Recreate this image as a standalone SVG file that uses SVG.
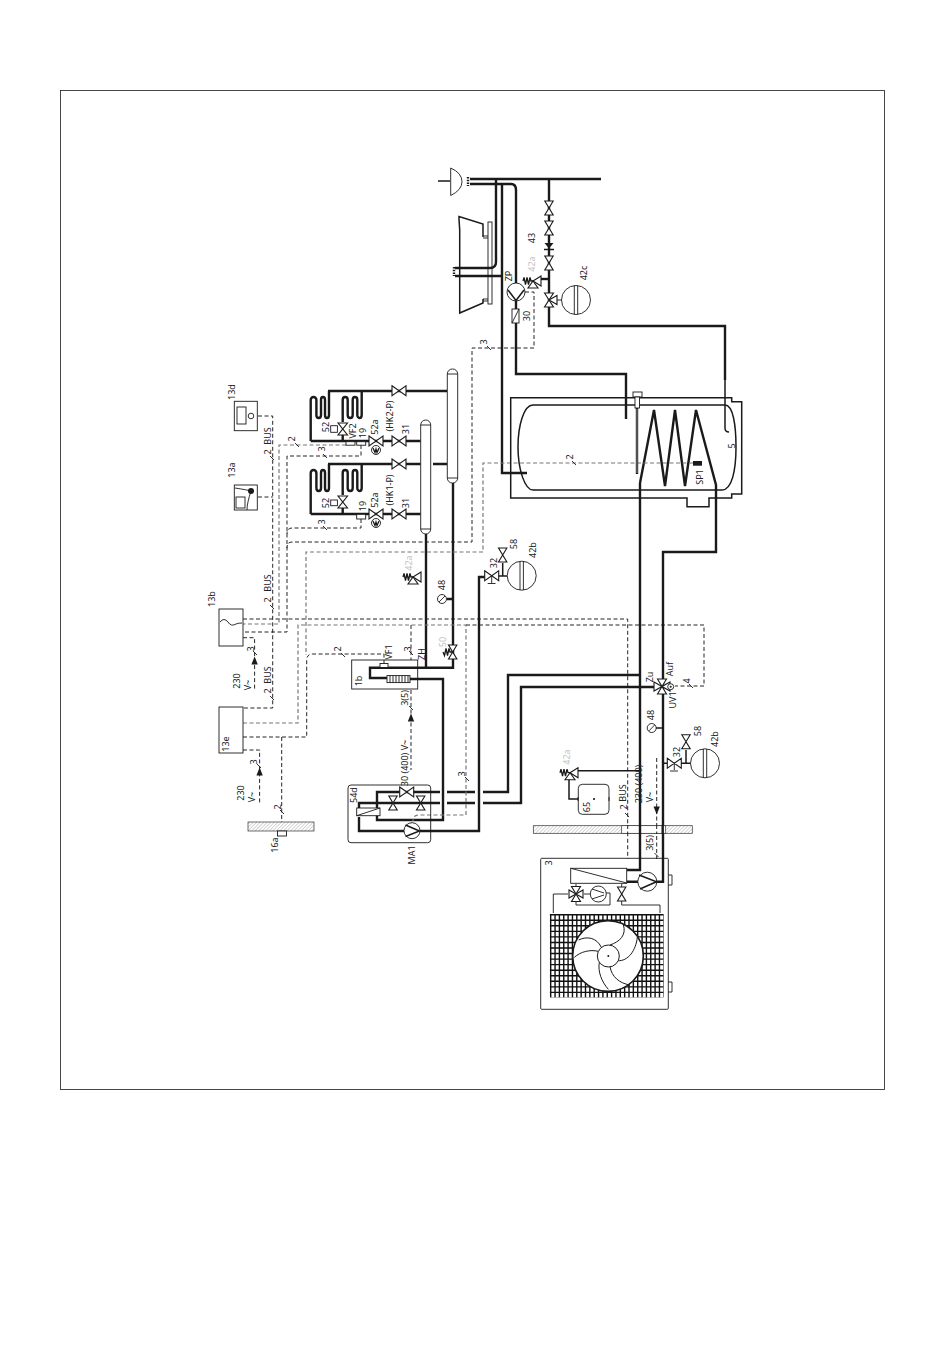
<svg xmlns="http://www.w3.org/2000/svg" width="950" height="1360" viewBox="0 0 950 1360">
<style>
text{font-family:"Noto Sans","Liberation Sans",sans-serif;font-size:9px;fill:#222;text-anchor:middle;dominant-baseline:central}
text.g{fill:#c4c4c4}
.p{fill:none;stroke:#1a1a1a;stroke-width:2.4}
.m{fill:none;stroke:#1a1a1a;stroke-width:1.5}
.n{fill:none;stroke:#1a1a1a;stroke-width:.9}
.b{fill:#fff;stroke:#1a1a1a;stroke-width:.9}
.d{fill:none;stroke:#1a1a1a;stroke-width:.95;stroke-dasharray:4 2.5}
.e{fill:none;stroke:#777;stroke-width:1.2;stroke-dasharray:4 2.5}
.a{fill:#1a1a1a;stroke:none}
.v{fill:#fff;stroke:#1a1a1a;stroke-width:1.1}
.s{fill:none;stroke:#1a1a1a;stroke-width:1.3}
</style>
<defs>
<pattern id="h" width="2.5" height="2.5" patternUnits="userSpaceOnUse" patternTransform="rotate(45)"><rect width="2.5" height="2.5" fill="#fff"/><path d="M0,0V2.5" stroke="#999" stroke-width=".8"/></pattern>
<path id="bt" class="v" d="M-7,-5L7,5V-5L-7,5Z"/>
<path id="bn" class="v" d="M-7,-4.2L7,4.2V-4.2L-7,4.2Z"/>
<g id="tv"><path class="v" d="M-4.5,-7L4.5,7H-4.5L4.5,-7Z"/><path class="v" d="M0,0L8,-4.5V4.5Z"/></g>
<g id="sv"><path class="v" d="M0,0L8,-5V5Z"/><path class="v" d="M0,0L-5,7H5Z"/><path class="s" d="M0,0H-2L-3,-3.5L-4.5,3.5L-6,-3.5L-7.5,3.5L-9,-3.5L-10,0"/></g>
<g id="exp"><circle class="b" r="14.5"/><path class="n" d="M-1.7,-14.3V14.3M1.7,-14.3V14.3"/></g>
<g id="coil"><path class="p" d="M310.7,441V400a2.85,3 0 0 1 5.7,0V415a2.3,3 0 0 0 4.6,0V400a2,3 0 0 1 4,0V415a2,3 0 0 0 4,0V391"/><path class="p" d="M342.7,422V400a2.5,3 0 0 1 5,0V415a2.5,3 0 0 0 5,0V400a2.3,3 0 0 1 4.6,0V415a2.2,3 0 0 0 4.4,0V391"/></g>
<g id="pm"><circle class="b" r="4.5"/><path class="s" d="M-3,-2L-1,2.5L0,-1L1,2.5L3,-2"/></g>
<path id="gauge" class="b" d="M4.5,0A4.5,4.5 0 1 1 -4.5,0A4.5,4.5 0 1 1 4.5,0ZM-3,3L3,-3"/>
<path id="au" class="a" d="M0,-4.5L3.2,3.5H-3.2Z"/>
</defs>
<rect id="frame" x="60.5" y="90.5" width="824" height="999" fill="#fff" stroke="#333" stroke-width=".9"/>

<g id="connectors">
<path class="p" d="M470,179H601M470,184H511Q516,184 516,190V283M516,301V374H626V419"/>
<path class="p" d="M496,179V262Q496,268 490,268H455M455,276H502M502,184V473H527"/>
<path class="p" d="M549,179V326H725V380"/>
<path class="m" d="M725,380V428Q725,432 729,432"/>
<path class="p" d="M549,279H539"/>
<path class="p" d="M426,534V667.7M453,483V667.7H370V678H387M410,679H443V820H377V792H440M447,792H475M483,792H508V675H640"/>
<path class="p" d="M359,808V803H440M447,803H475M483,803H521V687H655M359,817V831H404M420,831H479V577H485M453,599H447"/>
<path class="p" d="M640,483V870H627M640,483L654,410L665,486L675,410L685,486L696,410L716,485V552H663V881.7H657M638,881.7H627"/>
<path class="p" d="M310.7,441H420.7M310.7,514H420.7M328,391H447M328,464H420.7M433,464H447M342.7,434V441M342.7,507V514"/>
<path class="m" d="M497,576H507M502.7,576V563M662.7,728H656M663,763.3H669M680,763.3H691M686,763.3V750"/>
<path class="m" d="M577,770.7H640M569,778V799H578"/>
<path class="d" d="M525,292H534V348H472V542H292Q287,542 287,548"/>
<path class="d" d="M258,416H272.7V708H243M258,497H272.7"/>
<path class="d" d="M243,619H627.7V859"/>
<path class="d" d="M361,445V456H287V632H243"/>
<path class="e" d="M346,445H279V624H243"/>
<path class="d" d="M361,519V528H292Q287,528 287,534"/>
<path class="e" d="M693,463H483V552H306V655"/>
<path class="d" d="M243,737H306.7V660Q306.7,654 313,654H384V664M281.7,737V830"/>
<path class="e" d="M243,723H298V625H466V815H419Q413,815 413,821"/>
<path class="d" d="M466,625H704V686H675"/>
<path class="d" d="M411,625V660M411,690V770"/>
<path class="d" d="M243,637.7H254.6V690M243,750H259.6V803M656.7,758V859"/>
<path class="n" d="M270,456l4,4M270,605l4,4M270,696l4,4M295,443l4,4M323,454l4,4M323,526l4,4M253,651l4,4M257,764l4,4M280,810l4,4M341,653l4,4M409,651l4,4M409,706l4,4M465,777l4,4M487,346l4,4M625,813l4,4M654.5,853l4,4M689,684l4,4"/>
</g>

<g id="frame-walls">
<rect x="248" y="822" width="66" height="9" fill="url(#h)" stroke="#333" stroke-width=".7"/>
<rect x="533.3" y="825.7" width="159" height="7.6" fill="url(#h)" stroke="#333" stroke-width=".7"/>
<rect x="621.7" y="825.7" width="44" height="7.6" fill="#fff" stroke="#333" stroke-width=".7"/>
<path class="p" d="M640,825V834M662.7,825V834"/><path class="d" d="M627.7,825V834M656.7,825V834"/>
</g>

<g id="washbasin"><path class="b" stroke-width="1.2" d="M450.7,168V195.5Q462,190 462,181.7Q462,173 450.7,168Z"/><path class="m" d="M438,181H450"/><path class="p" stroke-width="4" stroke-dasharray="1.5 1.2" d="M468,177V186"/></g>
<g id="bathtub"><path class="m" d="M483,237V224L459,216.6V219L459.7,230V313L483,303V299"/><rect class="n" x="488" y="222" width="4" height="82"/><path class="n" d="M483,236H488M483,238H488M483,299H488M483,301H488"/><path class="p" stroke-width="4" stroke-dasharray="1.5 1.2" d="M454,267V276"/></g>

<g id="pump-zp"><circle class="b" cx="516" cy="292" r="9"/><path class="m" d="M508,290L516,300.5L524,290"/><rect class="b" x="512" y="309" width="7" height="14"/><path class="n" d="M512,323L519,309"/><text transform="translate(508,276) rotate(-90)">ZP</text><text transform="translate(526,316) rotate(-90)">30</text></g>

<g id="valves-43">
<use href="#bn" transform="translate(549,208) rotate(90)"/><use href="#bn" transform="translate(549,228) rotate(90)"/>
<path class="a" d="M544.5,243H553.5L549,248.5Z"/><path class="m" d="M544,249.5H554"/>
<use href="#bn" transform="translate(549,263) rotate(90)"/>
<use href="#tv" transform="translate(549,300)"/>
<use href="#sv" transform="translate(533,281)"/>
<use href="#exp" transform="translate(576,300)"/><path class="n" d="M557,300H561.5"/>
<text transform="translate(531,238) rotate(-90)">43</text><text class="g" transform="translate(531,264) rotate(-90)">42a</text><text transform="translate(583,273) rotate(-90)">42c</text>
</g>

<g id="tank">
<path class="m" d="M510.7,397.7H731.7V401.7H741.7V494H731.7V498H709V506.7H687V498H510.7Z"/>
<path class="m" d="M533,405H725C733,405 736,425 736,447C736,470 732,490 722,490H533C525,490 518,470 518,447C518,425 524,405 533,405Z"/>
<rect class="b" x="633" y="392" width="9" height="5"/><rect class="b" x="635" y="397" width="4.5" height="11"/><path class="p" d="M637,408V474"/><path d="M637,409V473" stroke="#fff" stroke-width=".5"/>
<rect class="a" x="693" y="461" width="9" height="4.7"/>
<path class="n" d="M572,461l4,4"/>
<text transform="translate(569,457) rotate(-90)">2</text><text transform="translate(699,477) rotate(-90)">SP1</text><text transform="translate(731,446) rotate(-90)">5</text>
</g>

<g id="vessel-1"><rect class="b" stroke-width="1.4" x="420.7" y="420" width="10" height="114" rx="5" ry="5"/><path class="n" d="M420.7,425H430.7M420.7,529H430.7"/></g>
<g id="vessel-2"><rect class="b" stroke-width="1.4" x="447.3" y="369" width="10.4" height="114" rx="5" ry="5"/><path class="n" d="M447.3,374H457.7M447.3,478H457.7"/></g>

<g id="hk2">
<use href="#coil"/>
<rect class="b" x="330.7" y="425.7" width="6.7" height="6.6"/>
<path class="v" d="M338,423H347.5L338,435H347.5Z"/>
<rect class="b" x="346" y="441.7" width="9" height="3.5"/><rect class="b" x="356.7" y="441.7" width="9" height="3.5"/>
<use href="#bt" transform="translate(376,441)"/><use href="#bt" transform="translate(399,441)"/><use href="#bt" transform="translate(399,390.7)"/>
<use href="#pm" transform="translate(376,450)"/>
<text transform="translate(325,427) rotate(-90)">52</text><text transform="translate(352,431) rotate(-90)">VF2</text><text transform="translate(362,433) rotate(-90)">19</text><text transform="translate(374,427) rotate(-90)">52a</text><text transform="translate(389,416) rotate(-90)">(HK2-P)</text><text transform="translate(405,429) rotate(-90)">31</text>
</g>
<g id="hk1">
<use href="#coil" transform="translate(0,73)"/>
<rect class="b" x="330.7" y="500" width="6.7" height="5.7"/>
<path class="v" d="M338,496H347.5L338,508H347.5Z"/>
<rect class="b" x="356.7" y="514.3" width="9" height="4.7"/>
<use href="#bt" transform="translate(376,514)"/><use href="#bt" transform="translate(399,514)"/><use href="#bt" transform="translate(399,464)"/>
<use href="#pm" transform="translate(376,523)"/>
<text transform="translate(325,503) rotate(-90)">52</text><text transform="translate(362,506) rotate(-90)">19</text><text transform="translate(374,500) rotate(-90)">52a</text><text transform="translate(389,490) rotate(-90)">(HK1-P)</text><text transform="translate(405,503) rotate(-90)">31</text>
</g>

<g id="node-13d"><rect class="b" x="234.3" y="401.3" width="23" height="29.4"/><rect class="b" x="237" y="407" width="9" height="17"/><circle class="b" stroke-width="1.3" cx="251" cy="416" r="2.8"/><text transform="translate(231,392) rotate(-90)">13d</text></g>
<g id="node-13a"><rect class="b" x="234.3" y="485" width="23" height="25"/><rect class="b" x="236" y="497" width="9" height="11"/><circle class="a" cx="251" cy="491" r="3"/><path class="n" d="M235,488Q248,490 251,491Q247,503 247,510"/><text transform="translate(231,470) rotate(-90)">13a</text></g>
<g id="node-13b"><rect class="b" x="219" y="609" width="24" height="37"/><path class="n" d="M220,622Q224,617 228,622Q231,627 236,624Q238,623 242,623"/><text transform="translate(211,599) rotate(-90)">13b</text></g>
<g id="node-13e"><rect class="b" x="219" y="707" width="24" height="46"/><text transform="translate(225,744) rotate(-90)">13e</text></g>
<g id="node-16a"><rect class="b" x="277.5" y="831" width="9" height="5"/><text transform="translate(274,845) rotate(-90)">16a</text></g>

<g id="node-1b"><rect class="n" x="351.7" y="660" width="66" height="29"/><rect class="b" x="380" y="663.5" width="8" height="4"/><rect class="b" x="387" y="675.6" width="23" height="7"/><path class="n" d="M390,675.6v7M393,675.6v7M396,675.6v7M399,675.6v7M402,675.6v7M405,675.6v7M408,675.6v7"/><text transform="translate(358,681) rotate(-90)">1b</text><text transform="translate(388,652) rotate(-90)">VF1</text><text transform="translate(421,654) rotate(-90)">ZH</text></g>

<g id="node-54d"><rect class="n" x="348" y="785" width="82.7" height="57.7" rx="3"/><rect class="b" x="356.7" y="808" width="23.3" height="7.7"/><path class="n" d="M356.7,815.7L380,808"/><use href="#bn" transform="translate(393,803) rotate(90)"/><use href="#bn" transform="translate(420.7,803) rotate(90)"/><use href="#bt" transform="translate(406.7,792)"/><circle class="b" cx="412" cy="830.7" r="8" stroke-width="1.4"/><path class="m" d="M405.5,825L419.5,831L405.5,836.5"/><text transform="translate(353,795) rotate(-90)">54d</text><text transform="translate(411,855) rotate(-90)">MA1</text></g>

<g id="group-32-left"><use href="#bt" transform="translate(491.7,575.7)"/><path class="n" d="M491.7,576V583M487.7,583.5H495.5"/><use href="#bn" transform="translate(502.7,555) rotate(90)"/><use href="#exp" transform="translate(521.7,575.7)"/><text transform="translate(493,563) rotate(-90)">32</text><text transform="translate(513,544) rotate(-90)">58</text><text transform="translate(532,550) rotate(-90)">42b</text></g>
<g id="group-heat"><use href="#sv" transform="translate(413,577)"/><text class="g" transform="translate(408,563) rotate(-90)">42a</text><use href="#gauge" transform="translate(442,599)"/><text transform="translate(441,585) rotate(-90)">48</text><use href="#bn" transform="translate(452.7,652) rotate(90)"/><path class="s" d="M452,652H450L449,648.5L447.5,655.5L446,648.5L444.5,655.5L443,652"/><text class="g" transform="translate(442,642) rotate(-90)">50</text></g>

<g id="uv1"><path class="v" d="M654,682L670,691V682L654,691Z"/><path class="v" d="M662,686.5L657.5,679H666.5Z"/><path class="v" d="M662,686.5L657.5,694H666.5Z"/><circle class="b" cx="670.7" cy="686.7" r="3"/><circle class="a" cx="670.7" cy="686.7" r="1"/><text transform="translate(649,677) rotate(-90)">Zu</text><text transform="translate(669,669) rotate(-90)">Auf</text><text transform="translate(672,700) rotate(-90)">UV1</text><text transform="translate(686,681) rotate(-90)">4</text></g>

<g id="group-32-right"><use href="#gauge" transform="translate(651.7,728)"/><text transform="translate(650,715) rotate(-90)">48</text><use href="#bt" transform="translate(674.3,763.3)"/><path class="n" d="M674.3,763V770M670,771H678"/><use href="#bn" transform="translate(686,741.7) rotate(90)"/><use href="#exp" transform="translate(705,763.3)"/><text transform="translate(676,752) rotate(-90)">32</text><text transform="translate(697,731) rotate(-90)">58</text><text transform="translate(714,739) rotate(-90)">42b</text></g>
<g id="node-65"><use href="#sv" transform="translate(570,772.7)"/><text class="g" transform="translate(566,757) rotate(-90)">42a</text><rect class="b" x="578.3" y="784.3" width="30.7" height="30" rx="4"/><circle class="a" cx="594" cy="799" r="1.1"/><path class="n" stroke-width="2" d="M578,797v4M609,797v4"/><text transform="translate(586,807) rotate(-90)">65</text></g>

<g id="labels">
<text transform="translate(267,436) rotate(-90)">BUS</text><text transform="translate(267,452) rotate(-90)">2</text>
<text transform="translate(267,583) rotate(-90)">BUS</text><text transform="translate(267,600) rotate(-90)">2</text>
<text transform="translate(267,675) rotate(-90)">BUS</text><text transform="translate(267,691) rotate(-90)">2</text>
<text transform="translate(291,439) rotate(-90)">2</text><text transform="translate(321,449) rotate(-90)">3</text><text transform="translate(321,522) rotate(-90)">3</text>
<text transform="translate(483,342) rotate(-90)">3</text>
<text transform="translate(250,649) rotate(-90)">3</text><text transform="translate(236,681) rotate(-90)">230</text><text transform="translate(247,685) rotate(-90)">V~</text>
<text transform="translate(253,762) rotate(-90)">3</text><text transform="translate(240,793) rotate(-90)">230</text><text transform="translate(251,797) rotate(-90)">V~</text>
<text transform="translate(277,807) rotate(-90)">2</text><text transform="translate(337,649) rotate(-90)">2</text><text transform="translate(407,649) rotate(-90)">3</text>
<text transform="translate(404,698) rotate(-90)">3(5)</text><text transform="translate(404,763) rotate(-90)">30 (400) V~</text><text transform="translate(461,774) rotate(-90)">3</text>
<text transform="translate(622,793) rotate(-90)">BUS</text><text transform="translate(623,807) rotate(-90)">2</text><text transform="translate(638,784) rotate(-90)">230 (400)</text><text transform="translate(649,797) rotate(-90)">V~</text><text transform="translate(649,843) rotate(-90)">3(5)</text>
<use href="#au" transform="translate(254.6,661)"/><use href="#au" transform="translate(259.6,772)"/><use href="#au" transform="translate(411,718)"/><use href="#au" transform="translate(656.7,810) rotate(180)"/>
</g>

<g id="heat-pump">
<rect class="n" x="540.7" y="858.3" width="127.6" height="151" rx="1" stroke-width="1"/>
<path class="n" d="M668.3,875H672V885H668.3M668.3,982H672V992H668.3"/>
<text transform="translate(548,863) rotate(-90)">3</text>
<rect class="b" x="570.7" y="868.3" width="56" height="15" stroke-width="1"/><path class="n" d="M570.7,868.3L626.7,883"/>
<circle class="b" cx="647.3" cy="881.7" r="9.5" stroke-width="1.4"/><path class="m" d="M639,875L656.5,881.7L640,889"/>
<path class="n" d="M553.3,894H568M553.3,894V913M576,884V905H610V893H606M590,894H584M621.7,884V905H660V913"/>
<path class="v" d="M569,890L583,898V890L569,898Z"/><path class="v" d="M576,894L571.5,886.5H580.5Z"/><path class="v" d="M576,894L571.5,901.5H580.5Z"/>
<circle class="b" cx="598.3" cy="894" r="8" stroke-width="1.4"/><path class="n" d="M592,889L604,893M592,899L604,895"/>
<use href="#bn" transform="translate(621.7,894) rotate(90)"/>
<g id="evaporator">
<path d="M550,955.6H663.6" fill="none" stroke="#111" stroke-width="83.4" stroke-dasharray="1.4 2.95"/>
<path d="M606.6,914V997.6" fill="none" stroke="#111" stroke-width="113.4" stroke-dasharray="1.4 4.15"/>
</g>
<g transform="translate(530,830) scale(.3333)" fill="none" stroke="#1a1a1a">
<circle cx="234" cy="378" r="106" fill="#fff" stroke-width="5"/>
<path stroke-width="3" d="M214,352C200,322 170,318 146,330M205,364C180,358 152,365 133,382M208,397C203,425 215,455 235,478M240,410C245,440 268,460 300,465M262,392C295,395 318,360 322,322M240,345C270,335 290,315 280,284"/>
<circle cx="235" cy="378" r="33" fill="#fff" stroke-width="3"/><circle cx="235" cy="378" r="3" fill="#1a1a1a" stroke="none"/>
</g>
</g>
</svg>
